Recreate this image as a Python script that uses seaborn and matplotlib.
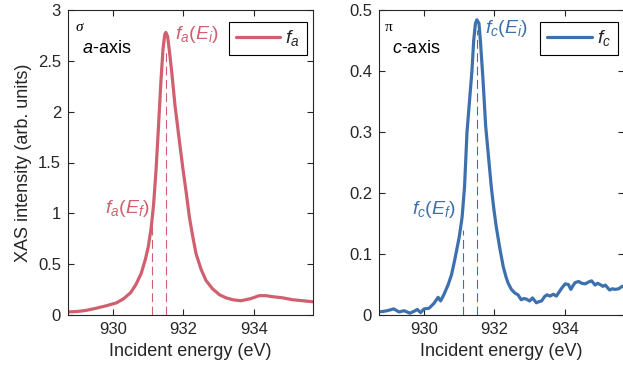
import numpy as np
import pandas as pd
import matplotlib
matplotlib.use("Agg")
import matplotlib.pyplot as plt
import seaborn as sns

# ---------------- data ----------------
energy_a = [928.72, 929.0, 929.23, 929.5, 929.8, 930.1, 930.3, 930.5, 930.65, 930.8,
            930.92, 931.0, 931.08, 931.15, 931.22, 931.29, 931.36, 931.42, 931.47, 931.5,
            931.55, 931.6, 931.67, 931.76, 931.86, 931.98, 932.08, 932.17, 932.27, 932.36,
            932.5, 932.64, 932.82, 933.02, 933.2, 933.4, 933.63, 933.9, 934.15, 934.35,
            934.53, 934.8, 935.1, 935.4, 935.68]
intensity_a = [0.03, 0.035, 0.045, 0.065, 0.09, 0.12, 0.16, 0.22, 0.30, 0.41,
               0.55, 0.67, 0.85, 1.08, 1.42, 1.85, 2.30, 2.62, 2.76, 2.78,
               2.74, 2.60, 2.38, 2.06, 1.78, 1.45, 1.20, 0.96, 0.76, 0.60,
               0.45, 0.34, 0.26, 0.20, 0.17, 0.15, 0.14, 0.16, 0.19, 0.19,
               0.18, 0.17, 0.15, 0.14, 0.13]

energy_c = [928.71, 928.85, 928.95, 929.14, 929.29, 929.43, 929.6, 929.71, 929.81, 929.9,
            930.0, 930.14, 930.28, 930.4, 930.47, 930.56, 930.68, 930.78, 930.87, 931.0,
            931.08, 931.15, 931.22, 931.29, 931.36, 931.41, 931.46, 931.5, 931.56, 931.6,
            931.67, 931.75, 931.83, 931.91, 931.98, 932.05, 932.15, 932.25, 932.33, 932.39,
            932.48, 932.58, 932.67, 932.76, 932.84, 932.91, 933.0, 933.08, 933.19, 933.27,
            933.34, 933.42, 933.49, 933.58, 933.67, 933.76, 933.84, 933.91, 934.01, 934.1,
            934.17, 934.23, 934.29, 934.39, 934.48, 934.58, 934.67, 934.76, 934.86, 934.93,
            935.0, 935.08, 935.15, 935.27, 935.35, 935.43, 935.53, 935.6, 935.68]
intensity_c = [0.005, 0.006, 0.007, 0.010, 0.005, 0.007, 0.003, 0.006, 0.009, 0.004,
               0.010, 0.011, 0.019, 0.029, 0.023, 0.033, 0.049, 0.066, 0.090, 0.128,
               0.16, 0.21, 0.30, 0.35, 0.40, 0.45, 0.478, 0.484, 0.478, 0.45,
               0.39, 0.31, 0.26, 0.21, 0.175, 0.145, 0.11, 0.079, 0.062, 0.052,
               0.042, 0.036, 0.033, 0.025, 0.027, 0.026, 0.023, 0.028, 0.020, 0.022,
               0.023, 0.030, 0.033, 0.031, 0.034, 0.031, 0.038, 0.044, 0.051, 0.050,
               0.042, 0.048, 0.053, 0.055, 0.052, 0.051, 0.054, 0.056, 0.049, 0.052,
               0.050, 0.047, 0.049, 0.041, 0.043, 0.042, 0.043, 0.046, 0.048]

# marker energies E_f, E_i and dashed line heights
E_f, E_i = 931.11, 931.5
dash_height_a = [0.9, 2.62]
dash_height_c = [0.14, 0.468]

xticks = [930, 932, 934]
yticks_a = [0, 0.5, 1, 1.5, 2, 2.5, 3]
yticks_c = [0, 0.1, 0.2, 0.3, 0.4, 0.5]
ytick_labels_a = ["0", "0.5", "1", "1.5", "2", "2.5", "3"]
ytick_labels_c = ["0", "0.1", "0.2", "0.3", "0.4", "0.5"]

red = "#D0606F"
blue = "#3D71AD"
dark = "#262626"

# ---------------- style ----------------
sns.set_style("ticks")
plt.rcParams["font.family"] = ["Liberation Sans", "DejaVu Sans"]
plt.rcParams["mathtext.fontset"] = "custom"
plt.rcParams["mathtext.rm"] = "Liberation Sans"
plt.rcParams["mathtext.it"] = "Liberation Sans:italic"
plt.rcParams["mathtext.bf"] = "Liberation Sans:bold"

fig = plt.figure(figsize=(6.23, 3.72), dpi=100)
ax1 = fig.add_axes([68 / 623, 1 - 315 / 372, 245 / 623, 305 / 372])
ax2 = fig.add_axes([379 / 623, 1 - 315 / 372, 245 / 623, 305 / 372])

df_a = pd.DataFrame({"E": energy_a, "I": intensity_a})
df_c = pd.DataFrame({"E": energy_c, "I": intensity_c})

sns.lineplot(data=df_a, x="E", y="I", ax=ax1, color=red, lw=2.3, label=r"$f_a$", sort=False)
sns.lineplot(data=df_c, x="E", y="I", ax=ax2, color=blue, lw=2.3, label=r"$f_c$", sort=False)

for ax, col, heights in [(ax1, red, dash_height_a), (ax2, blue, dash_height_c)]:
    ax.vlines([E_f, E_i], [0, 0], heights, colors=col, linestyles=(0, (8, 4)), lw=0.8)

for ax, yt, yl, ylim in [(ax1, yticks_a, ytick_labels_a, (0, 3)), (ax2, yticks_c, ytick_labels_c, (0, 0.5))]:
    ax.set_xlim(928.72, 935.68)
    ax.set_ylim(*ylim)
    ax.set_xticks(xticks)
    ax.set_xticklabels([str(t) for t in xticks])
    ax.set_yticks(yt)
    ax.set_yticklabels(yl)
    ax.tick_params(direction="in", top=True, right=True, length=4, width=0.8,
                   labelsize=12, colors=dark, labelcolor=dark, pad=5)
    for s in ax.spines.values():
        s.set_visible(True)
        s.set_color(dark)
        s.set_linewidth(0.8)
    ax.set_xlabel("Incident energy (eV)", fontsize=13, color=dark, labelpad=4)
    leg = ax.legend(loc="upper right", bbox_to_anchor=(0.974, 0.962), borderaxespad=0,
                    fontsize=14, handlelength=2.3, handletextpad=0.25, fancybox=False,
                    framealpha=1, edgecolor="black", borderpad=0.35)
    leg.get_frame().set_linewidth(0.8)

ax1.set_ylabel("XAS intensity (arb. units)", fontsize=13, color=dark, labelpad=4)
ax2.set_ylabel("")

# annotations
ax1.text(931.76, 2.76, r"$f_a(E_i)$", color=red, fontsize=14, ha="left", va="center")
ax1.text(929.77, 1.05, r"$f_a(E_f)$", color=red, fontsize=14, ha="left", va="center")
ax2.text(931.72, 0.469, r"$f_c(E_i)$", color=blue, fontsize=14, ha="left", va="center")
ax2.text(929.67, 0.173, r"$f_c(E_f)$", color=blue, fontsize=14, ha="left", va="center")

ax1.text(0.029, 0.943, "σ", transform=ax1.transAxes, fontsize=11, color="black",
         family="Liberation Serif", style="italic", ha="left", va="center")
ax1.text(0.057, 0.874, r"$a$-axis", transform=ax1.transAxes, fontsize=13, color="black",
         ha="left", va="center")
ax2.text(0.024, 0.943, "π", transform=ax2.transAxes, fontsize=11, color="black",
         family="Liberation Serif", ha="left", va="center")
ax2.text(0.053, 0.874, r"$c$-axis", transform=ax2.transAxes, fontsize=13, color="black",
         ha="left", va="center")

fig.savefig("out.png", dpi=100)
